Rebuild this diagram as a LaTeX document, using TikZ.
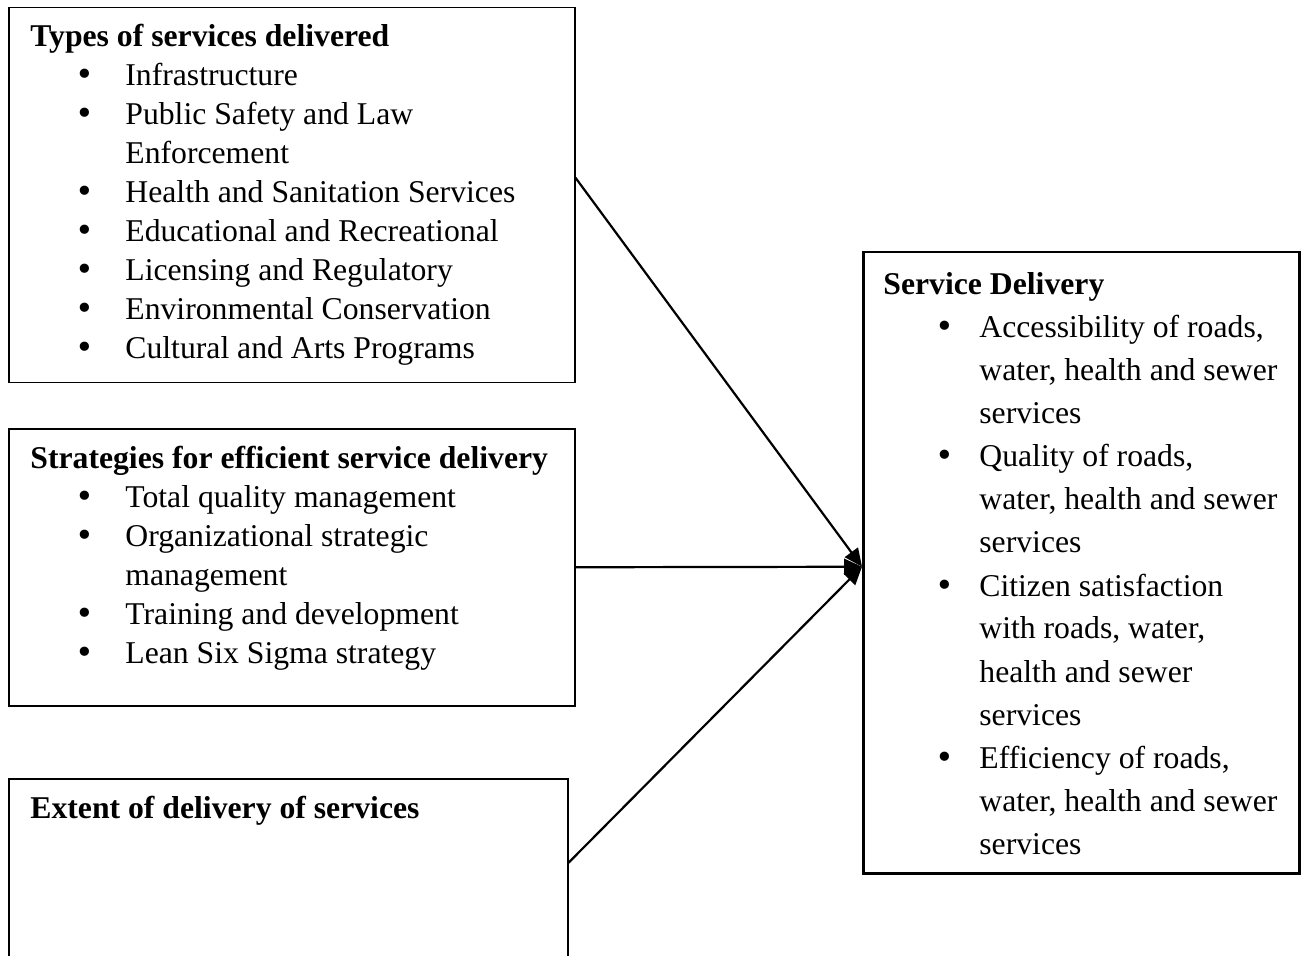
\documentclass[tikz,border=0pt]{standalone}
\usepackage{fontspec}
\setmainfont{Liberation Serif}
\newfontfamily\bulfont{DejaVu Sans}
\usepackage{tikz}
\usetikzlibrary{arrows.meta}
\tikzset{
    varbox/.style={rectangle, draw, line width=0.75pt, anchor=north west, inner sep=0pt},
    depbox/.style={varbox, line width=1.25pt},
    boxtext/.style={anchor=base west, inner sep=0pt, align=left},
    link/.style={line width=1.1pt, -{Triangle[length=9pt,width=8pt]}}
}
\newcommand{\bigbul}{{\bulfont •}}
\newcommand{\lbul}{\hspace*{22.5pt}\bigbul}
\newcommand{\rbul}{\hspace*{26pt}\bigbul}
\newcommand{\lfont}{\fontsize{15.85}{19.5}\selectfont}
\newcommand{\rfont}{\fontsize{15.85}{21.5}\selectfont}
\begin{document}
\begin{tikzpicture}[x=0.5pt, y=-0.5pt]
                    \useasboundingbox (0,0) rectangle (1304,956);
                    \clip (0,0) rectangle (1304,956);
                    % boxes
                    \node[varbox, minimum width=283pt, minimum height=187.5pt] (types) at (8,7) {};
                    \node[varbox, minimum width=283pt, minimum height=138.5pt] (strat) at (8,428) {};
                    \node[varbox, minimum width=279.5pt, minimum height=110pt] (extent) at (8,778) {};
                    \node[depbox, minimum width=218pt, minimum height=310.5pt] (deliv) at (862,251) {};
                    % texts
                    \node[boxtext] (typestxt) at (30,47) {\lfont
                        \begin{tabular}[t]{@{}p{47.5pt}@{}l@{}}
                        \multicolumn{2}{@{}l@{}}{\bfseries Types of services delivered}\\
                        \lbul & Infrastructure\\
                        \lbul & Public Safety and Law\\
                              & Enforcement\\
                        \lbul & Health and Sanitation Services\\
                        \lbul & Educational and Recreational\\
                        \lbul & Licensing and Regulatory\\
                        \lbul & Environmental Conservation\\
                        \lbul & Cultural and Arts Programs
                        \end{tabular}};
                    \node[boxtext] (strattxt) at (30,468) {\lfont
                        \begin{tabular}[t]{@{}p{47.5pt}@{}l@{}}
                        \multicolumn{2}{@{}l@{}}{\bfseries Strategies for efficient service delivery}\\
                        \lbul & Total quality management\\
                        \lbul & Organizational strategic\\
                              & management\\
                        \lbul & Training and development\\
                        \lbul & Lean Six Sigma strategy
                        \end{tabular}};
                    \node[boxtext] (extenttxt) at (30,818) {\lfont\bfseries Extent of delivery of services};
                    \node[boxtext] (delivtxt) at (883,295) {\rfont
                        \begin{tabular}[t]{@{}p{48pt}@{}l@{}}
                        \multicolumn{2}{@{}l@{}}{\bfseries Service Delivery}\\
                        \rbul & Accessibility of roads,\\
                              & water, health and sewer\\
                              & services\\
                        \rbul & Quality of roads,\\
                              & water, health and sewer\\
                              & services\\
                        \rbul & Citizen satisfaction\\
                              & with roads, water,\\
                              & health and sewer\\
                              & services\\
                        \rbul & Efficiency of roads,\\
                              & water, health and sewer\\
                              & services
                        \end{tabular}};
                    % arrows
                    \coordinate (hub) at ([yshift=-2pt]deliv.west);
                    \draw[link] ([yshift=8.75pt]types.east) -- (hub);
                    \draw[link] (strat.east) -- (hub);
                    \draw[link] ([yshift=13pt]extent.east) -- (hub);
                \end{tikzpicture}
\end{document}
